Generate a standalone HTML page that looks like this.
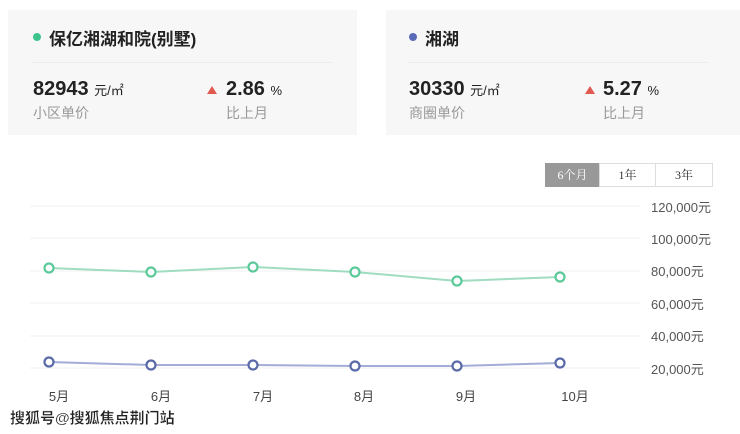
<!DOCTYPE html>
<html><head><meta charset="utf-8"><style>
body{margin:0;width:740px;height:434px;background:#fff;font-family:"Liberation Sans","Noto Sans CJK SC",sans-serif;position:relative;overflow:hidden}
.card{position:absolute;top:10px;height:125px;background:#f7f7f8}
.t{position:absolute;font-size:17px;font-weight:bold;color:#222}
.dot{position:absolute;width:8px;height:8px;border-radius:50%}
.hr{position:absolute;height:1px;background:#ececec}
.big{position:absolute;font-size:20px;font-weight:bold;color:#222}
.big span{font-size:13px;font-weight:normal}
.sub{position:absolute;font-size:14px;color:#999}
.tri{position:absolute;width:0;height:0;border-left:5px solid transparent;border-right:5px solid transparent;border-bottom:8px solid #e05a4f}
.btn{position:absolute;top:163px;height:22px;border:1px solid #ddd;font-family:"Liberation Serif","Noto Serif CJK SC",serif;font-size:12px;line-height:22px;text-align:center;color:#333;box-sizing:content-box}
</style></head><body>
<div class="card" style="left:8px;width:349px"></div>
<div class="card" style="left:386px;width:354px"></div>
<div class="dot" style="left:33px;top:33px;background:#3dc48d"></div>
<div class="t" style="left:49px;top:25px">保亿湘湖和院(别墅)</div>
<div class="hr" style="left:32px;top:62px;width:300px"></div>
<div class="big" style="left:33px;top:78px">82943 <span>元/㎡</span></div>
<div class="sub" style="left:33px;top:103px">小区单价</div>
<div class="tri" style="left:207px;top:86px"></div>
<div class="big" style="left:226px;top:78px">2.86 <span>%</span></div>
<div class="sub" style="left:226px;top:103px">比上月</div>
<div class="dot" style="left:409px;top:33px;background:#5a6bb8"></div>
<div class="t" style="left:425px;top:25px">湘湖</div>
<div class="hr" style="left:408px;top:62px;width:300px"></div>
<div class="big" style="left:409px;top:78px">30330 <span>元/㎡</span></div>
<div class="sub" style="left:409px;top:103px">商圈单价</div>
<div class="tri" style="left:585px;top:86px"></div>
<div class="big" style="left:603px;top:78px">5.27 <span>%</span></div>
<div class="sub" style="left:603px;top:103px">比上月</div>
<div class="btn" style="left:545px;width:53px;background:#999;color:#fff;border-color:#999">6个月</div>
<div class="btn" style="left:599px;width:55px">1年</div>
<div class="btn" style="left:655px;width:56px">3年</div>
<svg width="740" height="434" style="position:absolute;left:0;top:0" font-family="Liberation Sans,Noto Sans CJK SC,sans-serif">
<g stroke="#f2f2f2" stroke-width="1">
<line x1="30" x2="640" y1="206" y2="206"/><line x1="30" x2="640" y1="238" y2="238"/><line x1="30" x2="640" y1="271" y2="271"/><line x1="30" x2="640" y1="303" y2="303"/><line x1="30" x2="640" y1="336" y2="336"/><line x1="30" x2="640" y1="368" y2="368"/>
</g>
<g font-size="13" fill="#555">
<text x="651" y="212">120,000元</text><text x="651" y="244">100,000元</text><text x="651" y="276">80,000元</text><text x="651" y="309">60,000元</text><text x="651" y="341">40,000元</text><text x="651" y="374">20,000元</text>
</g>
<g font-size="13" fill="#444" text-anchor="middle">
<text x="59" y="401">5月</text><text x="161" y="401">6月</text><text x="263" y="401">7月</text><text x="364" y="401">8月</text><text x="466" y="401">9月</text><text x="575" y="401">10月</text>
</g>
<polyline points="49,268 151,272 253,267 355,272 457,281 560,277" fill="none" stroke="#9fdcc0" stroke-width="2"/>
<g fill="#fff" stroke="#5cc99a" stroke-width="2.2">
<circle cx="49" cy="268" r="4.5"/><circle cx="151" cy="272" r="4.5"/><circle cx="253" cy="267" r="4.5"/><circle cx="355" cy="272" r="4.5"/><circle cx="457" cy="281" r="4.5"/><circle cx="560" cy="277" r="4.5"/>
</g>
<polyline points="49,362 151,365 253,365 355,366 457,366 560,363" fill="none" stroke="#a3acd6" stroke-width="2"/>
<g fill="#fff" stroke="#5a6aa8" stroke-width="2.2">
<circle cx="49" cy="362" r="4.5"/><circle cx="151" cy="365" r="4.5"/><circle cx="253" cy="365" r="4.5"/><circle cx="355" cy="366" r="4.5"/><circle cx="457" cy="366" r="4.5"/><circle cx="560" cy="363" r="4.5"/>
</g>
<text x="10" y="423" font-size="15" font-weight="bold" fill="#222" stroke="#fff" stroke-width="0.3">搜狐号@搜狐焦点荆门站</text>
</svg>
</body></html>
